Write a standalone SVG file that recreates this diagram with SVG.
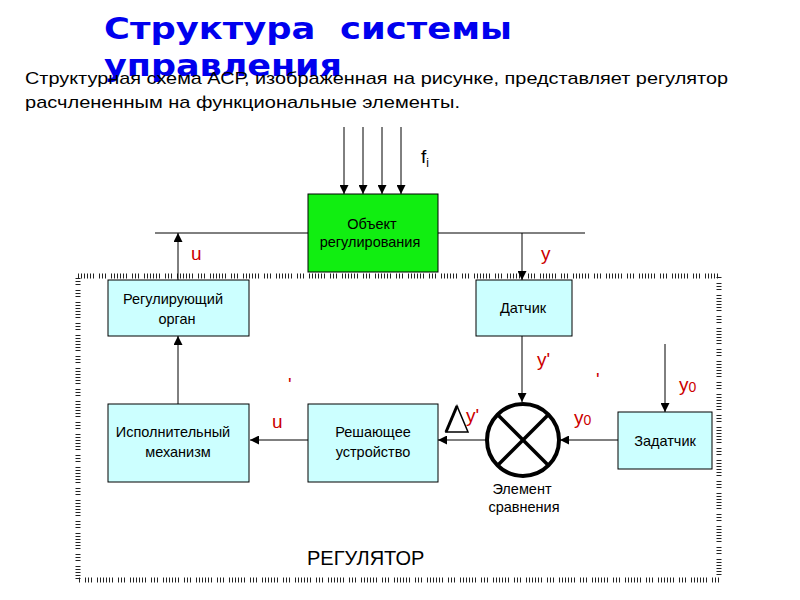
<svg xmlns="http://www.w3.org/2000/svg" width="800" height="600" viewBox="0 0 800 600">
<defs>
<marker id="ah" viewBox="0 0 10 10" refX="10" refY="5" markerWidth="9" markerHeight="9" markerUnits="userSpaceOnUse" orient="auto">
<path d="M0,0 L10,5 L0,10 z" fill="#000"/>
</marker>
</defs>
<style>
.box{fill:#ccffff;stroke:#000;stroke-width:1}
.obj{fill:#11ee11;stroke:#000;stroke-width:1}
.t{font-family:"Liberation Sans",Arial,sans-serif;font-size:14.5px;fill:#000;text-anchor:middle}
.r{font-family:"Liberation Sans",Arial,sans-serif;font-size:19px;fill:#cc0000}
.ln{stroke:#000;stroke-width:1;fill:none}
.arr{stroke:#000;stroke-width:1;fill:none;marker-end:url(#ah)}
.ttl{font-family:"DejaVu Sans","Liberation Sans",sans-serif;font-weight:bold;font-size:30px;fill:#0000ee}
</style>
<rect width="800" height="600" fill="#fff"/>
<text class="ttl" x="104" y="39" textLength="408" lengthAdjust="spacingAndGlyphs" xml:space="preserve">Структура  системы</text>
<text class="ttl" x="104" y="76" textLength="238" lengthAdjust="spacingAndGlyphs">управления</text>
<text x="25" y="84" font-family="Liberation Sans,Arial,sans-serif" font-size="17" fill="#000" textLength="703" lengthAdjust="spacingAndGlyphs">Структурная схема АСР, изображенная на рисунке, представляет регулятор</text>
<text x="25" y="108" font-family="Liberation Sans,Arial,sans-serif" font-size="17" fill="#000" textLength="435" lengthAdjust="spacingAndGlyphs">расчлененным на функциональные элементы.</text>

<rect x="78" y="276" width="641" height="304" fill="none" stroke="#222" stroke-width="5" stroke-dasharray="1 2 1 2 1 2 1 2 1 2 1 5 1 2 1 2 1 5"/>

<g id="connectors">
<line class="arr" x1="344" y1="127" x2="344" y2="194"/>
<line class="arr" x1="363" y1="127" x2="363" y2="194"/>
<line class="arr" x1="382" y1="127" x2="382" y2="194"/>
<line class="arr" x1="401" y1="127" x2="401" y2="194"/>
<line class="ln" x1="155" y1="233" x2="308" y2="233"/>
<line class="ln" x1="438" y1="233" x2="585" y2="233"/>
<line class="arr" x1="178" y1="280" x2="178" y2="233"/>
<line class="arr" x1="522" y1="233" x2="522" y2="280"/>
<line class="arr" x1="522" y1="336" x2="522" y2="402"/>
<line class="arr" x1="665" y1="344" x2="665" y2="412"/>
<line class="arr" x1="618" y1="440" x2="560" y2="440"/>
<line class="arr" x1="486" y1="440" x2="438" y2="440"/>
<line class="arr" x1="308" y1="440" x2="250" y2="440"/>
<line class="arr" x1="178" y1="404" x2="178" y2="336"/>
</g>

<g id="object">
<rect class="obj" x="308" y="194" width="130" height="78"/>
<text class="t" x="372" y="229">Объект</text>
<text class="t" x="370" y="247">регулирования</text>
</g>
<g id="reg-organ">
<rect class="box" x="108" y="280" width="141" height="56"/>
<text class="t" x="173" y="304">Регулирующий</text>
<text class="t" x="177" y="324">орган</text>
</g>
<g id="datchik">
<rect class="box" x="476" y="280" width="96" height="56"/>
<text class="t" x="523" y="313">Датчик</text>
</g>
<g id="compare">
<circle cx="523" cy="440" r="36" fill="#fff" stroke="#000" stroke-width="4"/>
<line x1="498" y1="415" x2="548" y2="465" stroke="#000" stroke-width="3.5"/>
<line x1="548" y1="415" x2="498" y2="465" stroke="#000" stroke-width="3.5"/>
<text class="t" x="522" y="494">Элемент</text>
<text class="t" x="524" y="512">сравнения</text>
</g>
<g id="zadatchik">
<rect class="box" x="618" y="412" width="94" height="57"/>
<text class="t" x="665" y="446">Задатчик</text>
</g>
<g id="reshayushchee">
<rect class="box" x="308" y="404" width="130" height="78"/>
<text class="t" x="373" y="437">Решающее</text>
<text class="t" x="373" y="457">устройство</text>
</g>
<g id="ispoln">
<rect class="box" x="108" y="404" width="141" height="78"/>
<text class="t" x="173" y="437">Исполнительный</text>
<text class="t" x="178" y="457">механизм</text>
</g>

<g id="labels">
<text x="421" y="163" font-family="Liberation Sans,Arial,sans-serif" font-size="19" fill="#000">f<tspan font-size="12" dy="4">i</tspan></text>
<text class="r" x="191" y="260">u</text>
<text class="r" x="541" y="260">y</text>
<text class="r" x="537" y="366">y'</text>
<text class="r" x="679" y="391">y<tspan font-size="14" dy="1">0</tspan></text>
<text class="r" x="574" y="424">y<tspan font-size="14" dy="1">0</tspan></text>
<text class="r" x="596" y="386">'</text>
<text class="r" x="288" y="391">'</text>
<text class="r" x="272" y="428">u</text>
<path d="M446,432 L457,406 L468,432 Z" fill="none" stroke="#000" stroke-width="1.5"/>
<path d="M446,432 L457,406" stroke="#000" stroke-width="3"/>
<text class="r" x="466" y="422">y'</text>
<text x="307" y="565" font-family="Liberation Sans,Arial,sans-serif" font-size="20" fill="#000">РЕГУЛЯТОР</text>
</g>
</svg>
